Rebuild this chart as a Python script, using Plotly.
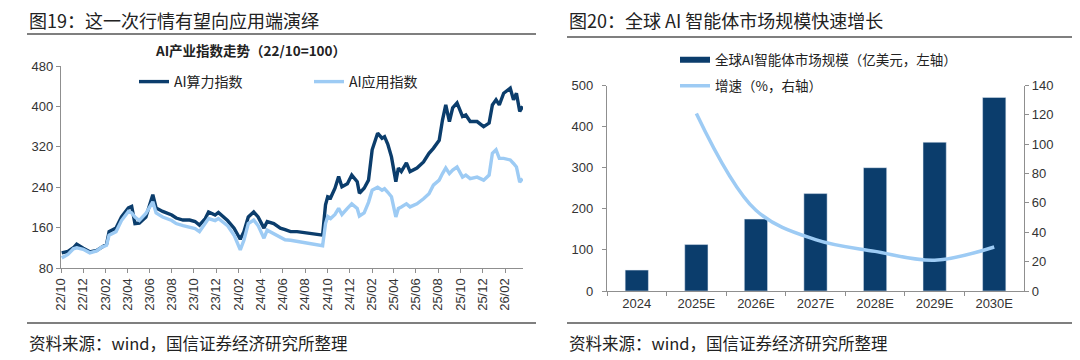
import plotly.graph_objects as go

# ---------------- Left panel data ----------------
dates = [
    "2022-10-03", "2022-10-20", "2022-11-04", "2022-11-13", "2022-12-01", "2022-12-19",
    "2023-01-07", "2023-01-20", "2023-02-03", "2023-02-10", "2023-03-01", "2023-03-16",
    "2023-04-04", "2023-04-13", "2023-04-22", "2023-05-04", "2023-05-22", "2023-06-10",
    "2023-06-19", "2023-07-07", "2023-08-01", "2023-08-13", "2023-09-01", "2023-09-19",
    "2023-10-04", "2023-10-16", "2023-11-01", "2023-11-10", "2023-11-28", "2023-12-07",
    "2024-01-01", "2024-01-19", "2024-02-05", "2024-02-15", "2024-02-27", "2024-03-13",
    "2024-03-25", "2024-04-10", "2024-04-19", "2024-05-07", "2024-05-25", "2024-06-07",
    "2024-06-22", "2024-07-10", "2024-08-01", "2024-08-22", "2024-09-18", "2024-09-26",
    "2024-10-02", "2024-10-10", "2024-10-22", "2024-11-01", "2024-11-10", "2024-11-25",
    "2024-12-07", "2024-12-22", "2024-12-28", "2025-01-10", "2025-01-22", "2025-02-01",
    "2025-02-16", "2025-02-28", "2025-03-07", "2025-03-16", "2025-03-26", "2025-04-07",
    "2025-04-14", "2025-04-22", "2025-05-06", "2025-05-16", "2025-06-04", "2025-06-22",
    "2025-07-07", "2025-07-19", "2025-08-04", "2025-08-13", "2025-08-22", "2025-09-01",
    "2025-09-10", "2025-09-22", "2025-10-07", "2025-10-16", "2025-10-28", "2025-11-16",
    "2025-12-04", "2025-12-19", "2025-12-28", "2026-01-07", "2026-01-16", "2026-01-28",
    "2026-02-15", "2026-02-24", "2026-03-04", "2026-03-13", "2026-03-21",
]
compute_index = [
    110, 113, 120, 127, 119, 112,
    115, 120, 127, 152, 159, 181,
    199, 202, 168, 169, 181, 225,
    199, 192, 185, 179, 175, 175,
    172, 165, 178, 191, 185, 190,
    174, 159, 137, 152, 181, 191,
    181, 159, 172, 168, 159, 156,
    152, 152, 150, 147, 145, 205,
    221, 219, 238, 261, 241, 247,
    264, 251, 228, 238, 254, 314,
    347, 337, 340, 325, 300, 251,
    278, 271, 288, 271, 278, 290,
    307, 317, 333, 373, 403, 370,
    397, 407, 380, 383, 370, 370,
    360, 367, 403, 413, 403, 426,
    436, 413, 426, 390, 400,
]
app_index = [
    100, 107, 118, 120, 117, 110,
    114, 121, 125, 145, 152, 174,
    192, 189, 181, 174, 188, 211,
    189, 181, 174, 168, 164, 161,
    158, 152, 168, 178, 174, 178,
    164, 145, 116, 135, 168, 175,
    164, 139, 155, 148, 142, 136,
    135, 133, 131, 128, 124, 168,
    182, 178, 186, 198, 186, 198,
    207, 198, 183, 189, 210, 234,
    240, 234, 237, 230, 221, 181,
    198, 201, 207, 201, 207, 217,
    227, 244, 254, 267, 278, 267,
    274, 280, 260, 264, 257, 260,
    254, 264, 307, 314, 297, 297,
    294, 287, 280, 250, 257,
]
tick_dates = [
    "2022-10-01", "2022-12-01", "2023-02-01", "2023-04-01", "2023-06-01", "2023-08-01",
    "2023-10-01", "2023-12-01", "2024-02-01", "2024-04-01", "2024-06-01", "2024-08-01",
    "2024-10-01", "2024-12-01", "2025-02-01", "2025-04-01", "2025-06-01", "2025-08-01",
    "2025-10-01", "2025-12-01", "2026-02-01",
]
tick_text = [
    "22/10", "22/12", "23/02", "23/04", "23/06", "23/08", "23/10", "23/12", "24/02",
    "24/04", "24/06", "24/08", "24/10", "24/12", "25/02", "25/04", "25/06", "25/08",
    "25/10", "25/12", "26/02",
]

# ---------------- Right panel data ----------------
years = ["2024", "2025E", "2026E", "2027E", "2028E", "2029E", "2030E"]
market_size = [51, 113, 175, 237, 300, 362, 471]
growth_rate = [None, 121, 55, 35, 27, 21, 30]

DARK = "#0B3D6C"
LIGHT = "#9DCBF4"
AXIS = "#8F8F8F"
TXT = "#222222"
NUM_FONT = "Liberation Sans, Arial, sans-serif"
CJK_FONT = "Noto Sans CJK SC, sans-serif"

# the page body has an 8px margin; size the figure to fill the rest of the window
OFF = 8
W, H = 1080 - OFF, 360 - OFF
def px(x):
    return (x - OFF) / W
def py(y):
    return 1 - (y - OFF) / H

fig = go.Figure()

fig.add_trace(go.Scatter(x=dates, y=compute_index, name="AI算力指数", mode="lines",
                         line=dict(color=DARK, width=3.4), xaxis="x", yaxis="y",
                         legend="legend"))
fig.add_trace(go.Scatter(x=dates, y=app_index, name="AI应用指数", mode="lines",
                         line=dict(color=LIGHT, width=3.4), xaxis="x", yaxis="y",
                         legend="legend"))

fig.add_trace(go.Bar(x=years, y=market_size, marker_color=DARK, width=0.39,
                     xaxis="x2", yaxis="y2", showlegend=False))
fig.add_trace(go.Scatter(x=[years[0]], y=[None], name="全球AI智能体市场规模（亿美元，左轴）",
                         mode="lines", line=dict(color=DARK, width=6),
                         xaxis="x2", yaxis="y2", legend="legend2"))
fig.add_trace(go.Scatter(x=years, y=growth_rate, name="增速（%，右轴）", mode="lines",
                         line=dict(color=LIGHT, width=3.5, shape="spline", smoothing=1.0),
                         xaxis="x2", yaxis="y3", legend="legend3"))

axis_common = dict(showline=True, linecolor=AXIS, linewidth=1.2, ticks="outside",
                   tickcolor=AXIS, ticklen=4, showgrid=False, zeroline=False,
                   automargin=False,
                   tickfont=dict(family=NUM_FONT, size=13, color="#333333"))

def legend_style(size):
    return dict(font=dict(family=CJK_FONT, size=size, color=TXT),
                bgcolor="rgba(0,0,0,0)", xanchor="left", yanchor="middle")

fig.update_layout(
    width=W, height=H,
    margin=dict(l=0, r=0, t=0, b=0, autoexpand=False),
    paper_bgcolor="white", plot_bgcolor="white",
    xaxis=dict(domain=[px(61), px(523)], anchor="y", type="date",
               range=["2022-10-01", "2026-03-22"], tickvals=tick_dates, ticktext=tick_text,
               tickangle=-90, **axis_common),
    yaxis=dict(domain=[py(268), py(66)], anchor="x", range=[80, 480], tick0=80, dtick=80,
               **axis_common),
    xaxis2=dict(domain=[px(607), px(1024)], anchor="y2", type="category",
                range=[-0.5, 6.5], tickson="boundaries", **axis_common),
    yaxis2=dict(domain=[py(291), py(85.5)], anchor="x2", range=[0, 500], dtick=100,
                ticklabelstandoff=6, **axis_common),
    yaxis3=dict(overlaying="y2", anchor="x2", side="right", range=[0, 140], dtick=20,
                **axis_common),
    bargap=0.6,
    legend=dict(orientation="h", x=px(134), y=py(82), entrywidth=130,
                entrywidthmode="pixels", **legend_style(14)),
    legend2=dict(orientation="v", x=px(675), y=py(60), **legend_style(13.5)),
    legend3=dict(orientation="v", x=px(675), y=py(86), **legend_style(13.5)),
)

annotations = [
    dict(text="图19：这一次行情有望向应用端演绎", x=px(27), y=py(20), size=18),
    dict(text="图20：全球 AI 智能体市场规模快速增长", x=px(567), y=py(20), size=18),
    dict(text="资料来源：wind，国信证券经济研究所整理", x=px(27), y=py(343), size=16.5),
    dict(text="资料来源：wind，国信证券经济研究所整理", x=px(567), y=py(343), size=16.5),
]
for a in annotations:
    fig.add_annotation(text=a["text"], x=a["x"], y=a["y"], xref="paper", yref="paper",
                       xanchor="left", yanchor="middle", showarrow=False,
                       font=dict(family=CJK_FONT, size=a["size"], color=TXT))
fig.add_annotation(text="<b>AI产业指数走势（22/10=100）</b>", x=px(250), y=py(50),
                   xref="paper", yref="paper", xanchor="center", yanchor="middle",
                   showarrow=False, font=dict(family=CJK_FONT, size=13.5, color=TXT))

rules = [(27, 536, 34), (567, 1080, 37), (27, 536, 323), (567, 1080, 323)]
for x0, x1, y in rules:
    fig.add_shape(type="line", xref="paper", yref="paper", x0=px(x0), x1=px(x1),
                  y0=py(y), y1=py(y), line=dict(color="#555555", width=1.5))

fig.write_html("out.html")
